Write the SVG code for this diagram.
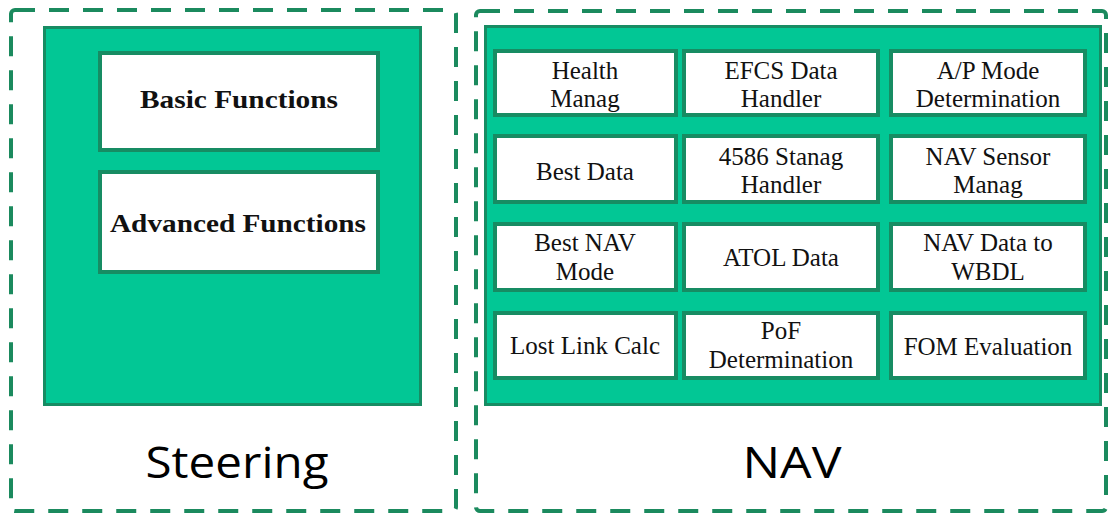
<svg xmlns="http://www.w3.org/2000/svg" width="1108" height="515" viewBox="0 0 1108 515">
<style>
.frame{fill:none;stroke:#1b8a5e;stroke-width:4;stroke-dasharray:20 14}
.panel{fill:#02c795;stroke:#178c63;stroke-width:3}
.box{fill:#fff;stroke:#178c63;stroke-width:4}
.t{font-family:"Liberation Serif","Times New Roman",serif;font-size:25px;fill:#111;text-anchor:middle}
.b{font-family:"Liberation Serif","Times New Roman",serif;font-size:25px;font-weight:bold;fill:#111;text-anchor:middle}
.big{font-family:"Open Sans","Liberation Sans",sans-serif;font-size:44px;fill:#000;text-anchor:middle}
</style>
<rect width="1108" height="515" fill="#fff"/>
<g id="steering">
  <rect class="frame" x="11" y="10" width="445" height="501" rx="4"/>
  <rect class="panel" x="44.5" y="27.5" width="376" height="377"/>
  <text class="big" x="237" y="478" textLength="183" lengthAdjust="spacingAndGlyphs">Steering</text>
</g>
<g id="basic-functions">
  <rect class="box" x="100" y="53" width="278" height="97"/>
  <text class="b" x="239" y="108" textLength="198" lengthAdjust="spacingAndGlyphs">Basic Functions</text>
</g>
<g id="advanced-functions">
  <rect class="box" x="100" y="172" width="278" height="100"/>
  <text class="b" x="238" y="232" textLength="256" lengthAdjust="spacingAndGlyphs">Advanced Functions</text>
</g>
<g id="nav">
  <rect class="frame" x="476" y="11" width="630" height="500" rx="4"/>
  <rect class="panel" x="485.5" y="26.5" width="615" height="378"/>
  <text class="big" x="792" y="478" textLength="99" lengthAdjust="spacingAndGlyphs">NAV</text>
</g>
<g id="health-manag">
  <rect class="box" x="495" y="51" width="181" height="64"/>
  <text class="t" x="585" y="79">Health</text>
  <text class="t" x="585" y="107">Manag</text>
</g>
<g id="efcs-data-handler">
  <rect class="box" x="684" y="51" width="194" height="64"/>
  <text class="t" x="781" y="79">EFCS Data</text>
  <text class="t" x="781" y="107">Handler</text>
</g>
<g id="ap-mode-determination">
  <rect class="box" x="891" y="51" width="194" height="64"/>
  <text class="t" x="988" y="79">A/P Mode</text>
  <text class="t" x="988" y="107">Determination</text>
</g>
<g id="best-data">
  <rect class="box" x="495" y="136" width="181" height="66"/>
  <text class="t" x="585" y="180">Best Data</text>
</g>
<g id="stanag-handler">
  <rect class="box" x="684" y="136" width="194" height="66"/>
  <text class="t" x="781" y="165">4586 Stanag</text>
  <text class="t" x="781" y="193">Handler</text>
</g>
<g id="nav-sensor-manag">
  <rect class="box" x="891" y="136" width="194" height="66"/>
  <text class="t" x="988" y="165">NAV Sensor</text>
  <text class="t" x="988" y="193">Manag</text>
</g>
<g id="best-nav-mode">
  <rect class="box" x="495" y="224" width="181" height="66"/>
  <text class="t" x="585" y="251">Best NAV</text>
  <text class="t" x="585" y="280">Mode</text>
</g>
<g id="atol-data">
  <rect class="box" x="684" y="224" width="194" height="66"/>
  <text class="t" x="781" y="266">ATOL Data</text>
</g>
<g id="nav-data-wbdl">
  <rect class="box" x="891" y="224" width="194" height="66"/>
  <text class="t" x="988" y="251">NAV Data to</text>
  <text class="t" x="988" y="280">WBDL</text>
</g>
<g id="lost-link-calc">
  <rect class="box" x="495" y="313" width="181" height="65"/>
  <text class="t" x="585" y="354">Lost Link Calc</text>
</g>
<g id="pof-determination">
  <rect class="box" x="684" y="313" width="194" height="65"/>
  <text class="t" x="781" y="339">PoF</text>
  <text class="t" x="781" y="368">Determination</text>
</g>
<g id="fom-evaluation">
  <rect class="box" x="891" y="313" width="194" height="65"/>
  <text class="t" x="988" y="355">FOM Evaluation</text>
</g>
<g id="connectors"></g>
</svg>
